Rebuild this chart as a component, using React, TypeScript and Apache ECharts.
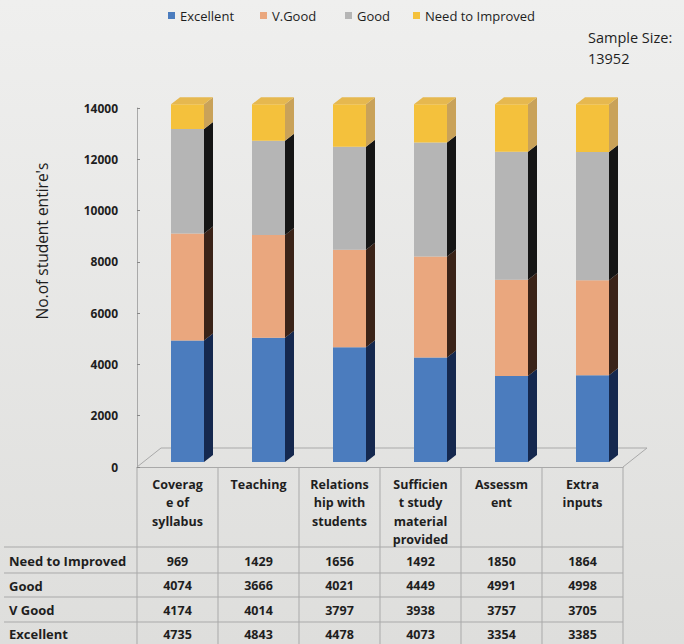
import React, { useEffect, useRef } from "react";
import * as echarts from "echarts";

// ---- data ----
const categories = [
  "Coverag\ne of\nsyllabus",
  "Teaching",
  "Relations\nhip with\nstudents",
  "Sufficien\nt study\nmaterial\nprovided",
  "Assessm\nent",
  "Extra\ninputs",
];
const seriesNames = ["Excellent", "V.Good", "Good", "Need to Improved"];
const excellent = [4735, 4843, 4478, 4073, 3354, 3385];
const vGood = [4174, 4014, 3797, 3938, 3757, 3705];
const good = [4074, 3666, 4021, 4449, 4991, 4998];
const needToImprove = [969, 1429, 1656, 1492, 1850, 1864];
const tableRowLabels = ["Need to Improved", "Good", "V Good", "Excellent"];
const yAxisTitle = "No.of student entire's";
const sampleSizeLabel = "Sample Size:";
const sampleSize = "13952";

// ---- styles ----
const FONT = "Open Sans";
const TEXT = "#1e1e1e";
const FRONT = ["#4b7cbe", "#eaa77e", "#b5b5b5", "#f4c13c"];
const SIDE = ["#15284e", "#3a2318", "#151515", "#c9a259"];
const TOPC = ["#5a8ac8", "#efb38c", "#c4c4c4", "#e6b84f"];
const LINE = "#a9a9a9";

const GRID = { left: 137, right: 61, top: 108, bottom: 177 };
const LEGEND_LEFTS = [163, 255, 340, 408];
const BAR_W = 33;
const SHIFT_X = 10;
const SHIFT_Y = -5;
const DEPTH_X = 9;
const DEPTH_Y = 7;
const FLOOR_DX = 24;
const FLOOR_DY = -19;
const ROW_LINES = [547, 573, 597, 622];
const ROW_CENTERS = [561, 585.5, 610, 634];

export default function App() {
  const ref = useRef<HTMLDivElement>(null);

  useEffect(() => {
    const chart = echarts.init(ref.current as HTMLDivElement, null, { renderer: "svg" });
    const stacks = [excellent, vGood, good, needToImprove];
    const lastIdx = stacks.length - 1;

    const series = stacks.map((vals, s) => ({
      type: "custom",
      name: seriesNames[s],
      coordinateSystem: "cartesian2d",
      itemStyle: { color: FRONT[s] },
      encode: { x: 0, y: [1, 2] },
      data: vals.map((v, i) => {
        let base = 0;
        for (let k = 0; k < s; k++) base += stacks[k][i];
        return [i, base, base + v];
      }),
      renderItem: (params: any, api: any) => {
        const x = api.value(0);
        const p0 = api.coord([x, api.value(1)]);
        const p1 = api.coord([x, api.value(2)]);
        const cx = p0[0] + SHIFT_X;
        const yb = p0[1] + SHIFT_Y;
        const yt = p1[1] + SHIFT_Y;
        const l = cx - BAR_W / 2;
        const r = cx + BAR_W / 2;
        const children: any[] = [
          {
            type: "rect",
            shape: { x: l, y: yt, width: BAR_W, height: yb - yt },
            style: { fill: FRONT[s] },
          },
          {
            type: "polygon",
            shape: {
              points: [
                [r, yb],
                [r + DEPTH_X, yb - DEPTH_Y],
                [r + DEPTH_X, yt - DEPTH_Y],
                [r, yt],
              ],
            },
            style: { fill: SIDE[s] },
          },
        ];
        if (s === lastIdx) {
          children.push({
            type: "polygon",
            shape: {
              points: [
                [l, yt],
                [l + DEPTH_X, yt - DEPTH_Y],
                [r + DEPTH_X, yt - DEPTH_Y],
                [r, yt],
              ],
            },
            style: { fill: TOPC[s] },
          });
        }
        return { type: "group", children };
      },
    }));

    chart.setOption({
      animation: false,
      backgroundColor: {
        type: "linear",
        x: 0,
        y: 0,
        x2: 0,
        y2: 1,
        colorStops: [
          { offset: 0, color: "#efefee" },
          { offset: 1, color: "#dededc" },
        ],
      },
      textStyle: { fontFamily: FONT },
      legend: seriesNames.map((n, i) => ({
        left: LEGEND_LEFTS[i],
        top: 4,
        itemWidth: 7,
        itemHeight: 7,
        data: [{ name: n, icon: "rect" }],
        textStyle: { color: TEXT, fontSize: 13, fontFamily: FONT },
      })),
      grid: GRID,
      xAxis: {
        type: "category",
        data: categories,
        axisLine: { show: true, lineStyle: { color: LINE, width: 1 } },
        axisTick: { show: false },
        axisLabel: {
          interval: 0,
          color: TEXT,
          fontWeight: "bold",
          fontSize: 12.5,
          fontFamily: FONT,
          lineHeight: 18.5,
          margin: 8,
          verticalAlign: "top",
        },
      },
      yAxis: {
        type: "value",
        min: 0,
        max: 14000,
        interval: 2000,
        axisLine: { show: true, lineStyle: { color: LINE, width: 1 } },
        axisTick: { show: true, length: 3, inside: true, lineStyle: { color: "#888" } },
        splitLine: { show: false },
        axisLabel: {
          color: TEXT,
          fontWeight: "bold",
          fontSize: 12,
          fontFamily: FONT,
          margin: 19,
          formatter: (v: number) => String(v),
        },
      },
      series,
    });

    // table and decorations positioned from the axes
    const colX = categories.map((_, i) => chart.convertToPixel({ xAxisIndex: 0 }, i) as number);
    const band = colX.length > 1 ? colX[1] - colX[0] : 80;
    const x0 = colX[0] - band / 2;
    const x1 = colX[colX.length - 1] + band / 2;
    const yZero = chart.convertToPixel({ yAxisIndex: 0 }, 0) as number;
    const H = 644;

    const g: any[] = [];
    // y axis title
    g.push({
      type: "text",
      silent: true,
      x: 42,
      y: 241,
      rotation: Math.PI / 2,
      style: {
        text: yAxisTitle,
        fontFamily: FONT,
        fontSize: 15.5,
        fill: TEXT,
        align: "center",
        verticalAlign: "middle",
      },
    });
    // floor
    g.push({
      type: "polyline",
      silent: true,
      shape: {
        points: [
          [x0, yZero],
          [x0 + FLOOR_DX, yZero + FLOOR_DY],
          [x1 + FLOOR_DX, yZero + FLOOR_DY],
          [x1, yZero],
        ],
      },
      style: { stroke: LINE, lineWidth: 1, fill: null },
    });
    // table vertical lines
    for (let i = 0; i <= colX.length; i++) {
      const xx = x0 + band * i;
      g.push({
        type: "line",
        silent: true,
        shape: { x1: xx, y1: yZero, x2: xx, y2: H },
        style: { stroke: LINE, lineWidth: 1 },
      });
    }
    // table horizontal lines
    ROW_LINES.forEach((yy) => {
      g.push({
        type: "line",
        silent: true,
        shape: { x1: 4, y1: yy, x2: x1, y2: yy },
        style: { stroke: LINE, lineWidth: 1 },
      });
    });
    const rows = [needToImprove, good, vGood, excellent];
    rows.forEach((vals, r) => {
      g.push({
        type: "text",
        silent: true,
        x: 9,
        y: ROW_CENTERS[r],
        style: {
          text: tableRowLabels[r],
          fontFamily: FONT,
          fontWeight: "bold",
          fontSize: 13,
          fill: TEXT,
          align: "left",
          verticalAlign: "middle",
        },
      });
      vals.forEach((v, i) => {
        g.push({
          type: "text",
          silent: true,
          x: colX[i],
          y: ROW_CENTERS[r],
          style: {
            text: String(v),
            fontFamily: FONT,
            fontWeight: "bold",
            fontSize: 12.5,
            fill: TEXT,
            align: "center",
            verticalAlign: "middle",
          },
        });
      });
    });
    // sample size note
    g.push({
      type: "text",
      silent: true,
      x: 588,
      y: 37,
      style: {
        text: sampleSizeLabel,
        fontFamily: FONT,
        fontSize: 14.5,
        fill: TEXT,
        align: "left",
        verticalAlign: "middle",
      },
    });
    g.push({
      type: "text",
      silent: true,
      x: 588,
      y: 58,
      style: {
        text: sampleSize,
        fontFamily: FONT,
        fontSize: 14.5,
        fill: TEXT,
        align: "left",
        verticalAlign: "middle",
      },
    });

    chart.setOption({ graphic: g });

    return () => chart.dispose();
  }, []);

  return (
    <div
      ref={ref}
      style={{ position: "fixed", left: 0, top: 0, width: 684, height: 644 }}
    />
  );
}
